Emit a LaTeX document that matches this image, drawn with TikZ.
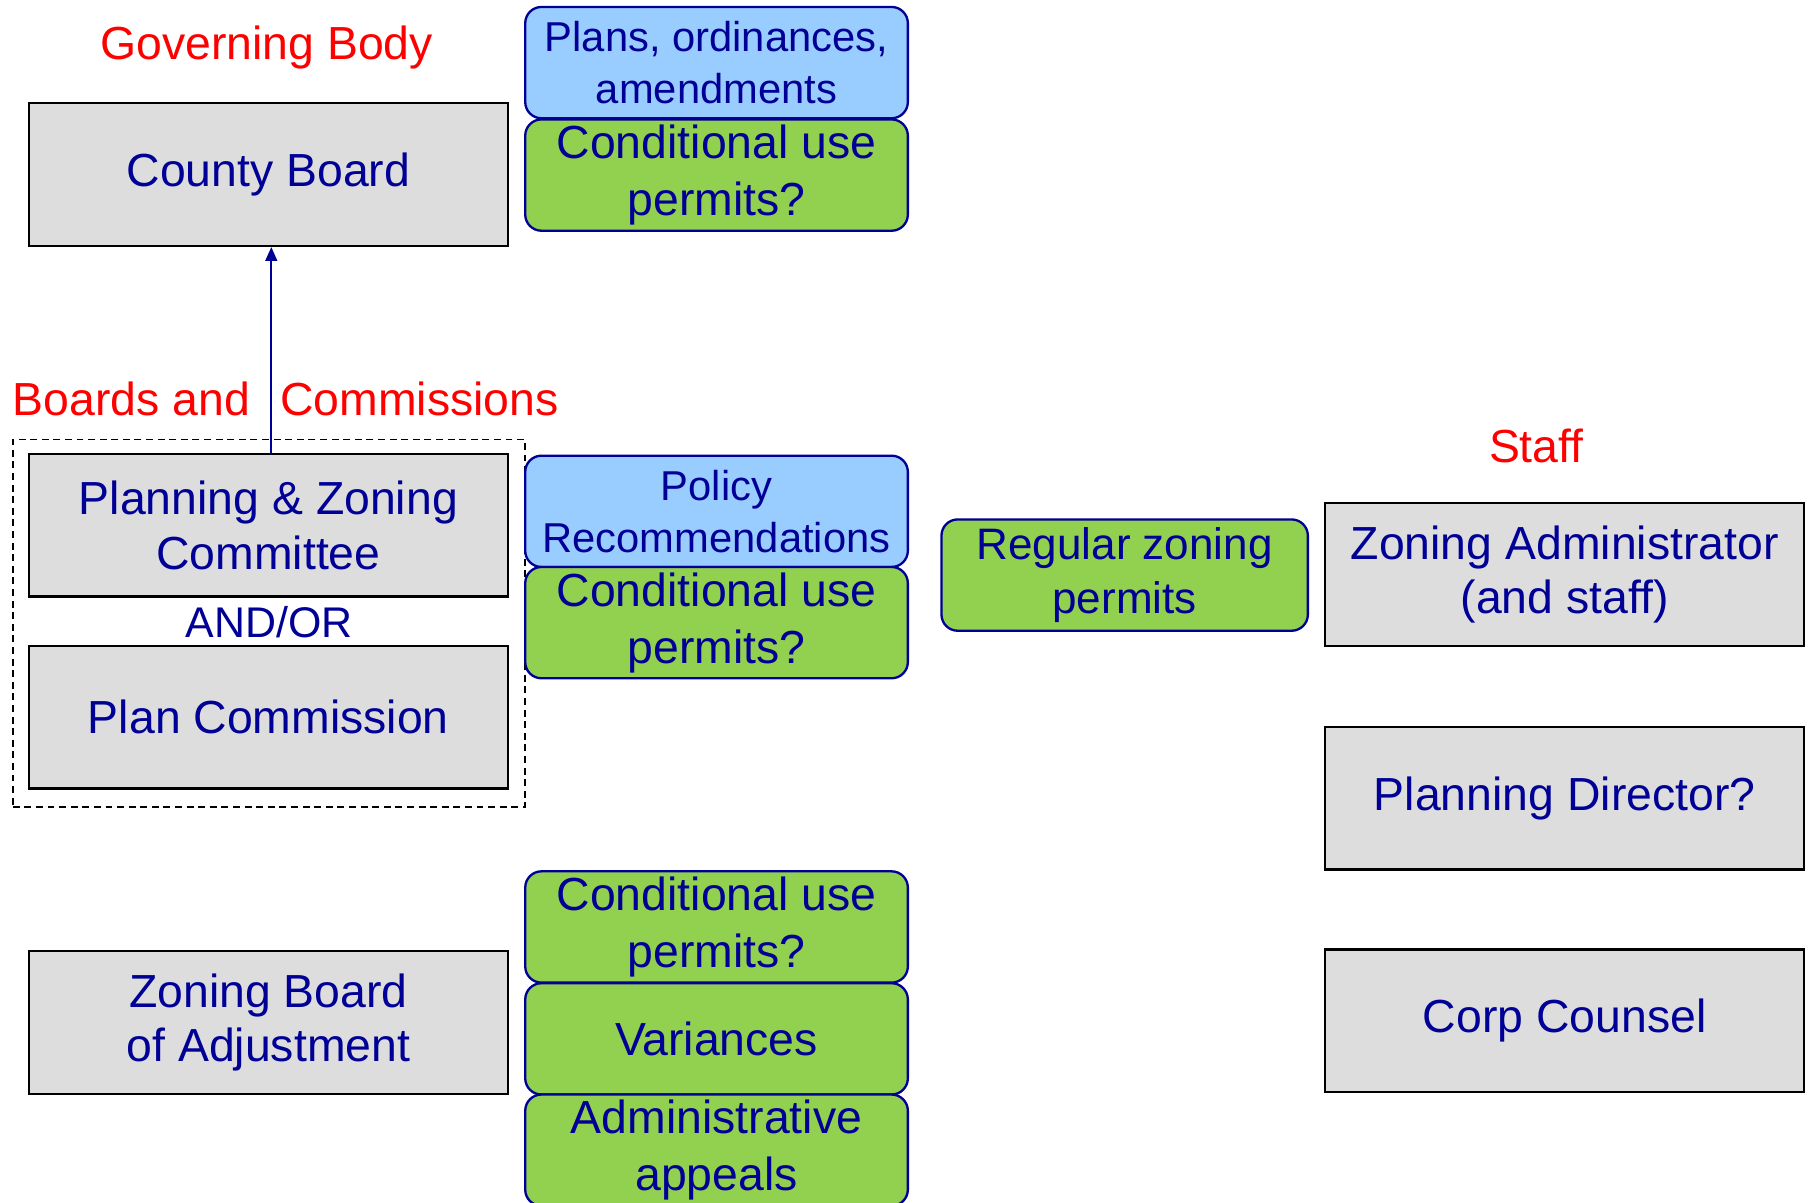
\documentclass[tikz,border=0pt]{standalone}
\usepackage{fontspec}
\setmainfont{Liberation Sans}
\usetikzlibrary{arrows.meta}
\definecolor{navy}{RGB}{0,0,150}
\definecolor{boxgray}{RGB}{221,221,221}
\definecolor{boxblue}{RGB}{153,204,255}
\definecolor{boxgreen}{RGB}{146,208,80}
\definecolor{labred}{RGB}{255,0,0}
\tikzset{
  graybox/.style={draw=black, line width=2pt, fill=boxgray, minimum width=413pt, minimum height=123pt, inner sep=0pt, text=navy, align=center, font=\fontsize{40}{47}\selectfont},
  roundbox/.style={draw=navy, line width=2pt, rounded corners=14pt, minimum width=330pt, minimum height=96pt, inner sep=0pt, text=navy, align=center},
  bluebox/.style={roundbox, fill=boxblue, font=\fontsize{36}{45}\selectfont},
  greenbox/.style={roundbox, fill=boxgreen, font=\fontsize{40}{49}\selectfont},
  redlabel/.style={text=labred, inner sep=0pt, font=\fontsize{40}{47}\selectfont},
  framebox/.style={draw=black, line width=1.5pt, dash pattern=on 6pt off 4pt},
  link/.style={draw=navy, line width=2pt, -{Triangle[width=10pt,length=12pt]}}
}
\begin{document}
\begin{tikzpicture}[x=1pt,y=-1pt]
\useasboundingbox[fill=white] (0,0) rectangle (1568,1037);
% labels
\node[redlabel] (gb) at (230,41) {Governing Body};
\node[redlabel] (bc) at (246.5,344) {Boards and\hspace{15pt} Commissions};
\node[redlabel] (st) at (1325,385) {Staff};
% left column
\node[graybox] (cb) at (231.5,150.5) {\raisebox{-5pt}{County Board}};
\node[framebox, minimum width=442pt, minimum height=317pt, inner sep=0pt] (grp) at (232,537.5) {};
\node[graybox] (pz) at (231.5,453) {Planning \& Zoning\\Committee};
\node[text=navy, inner sep=0pt, font=\fontsize{37}{44}\selectfont] (ao) at (232,537) {AND/OR};
\node[graybox] (pc) at (231.5,618.5) {Plan Commission};
\node[graybox] (zba) at (231.5,882) {Zoning Board\\of Adjustment};
% middle column
\node[bluebox] (pl) at (618,54) {Plans, ordinances,\\amendments};
\node[greenbox] (cu1) at (618,151) {Conditional use\\permits?};
\node[bluebox] (po) at (618,441) {Policy\\Recommendations};
\node[greenbox] (cu2) at (618,537) {Conditional use\\permits?};
\node[greenbox] (cu3) at (618,799.5) {Conditional use\\permits?};
\node[greenbox] (va) at (618,896) {Variances};
\node[greenbox] (ad) at (618,992) {Administrative\\appeals};
\node[greenbox, minimum width=316pt, font=\fontsize{38}{47}\selectfont] (rz) at (970,496) {Regular zoning\\permits};
% right column
\node[graybox] (za) at (1349.5,495.5) {Zoning Administrator\\(and staff)};
\node[graybox] (pd) at (1349.5,688.5) {\raisebox{-3pt}{Planning Director?}};
\node[graybox] (cc) at (1349.5,880.5) {\raisebox{-3pt}{Corp Counsel}};
% connector
\draw[link] ([xshift=2.5pt]pz.north) -- ([xshift=2.5pt]cb.south);
\end{tikzpicture}
\end{document}
